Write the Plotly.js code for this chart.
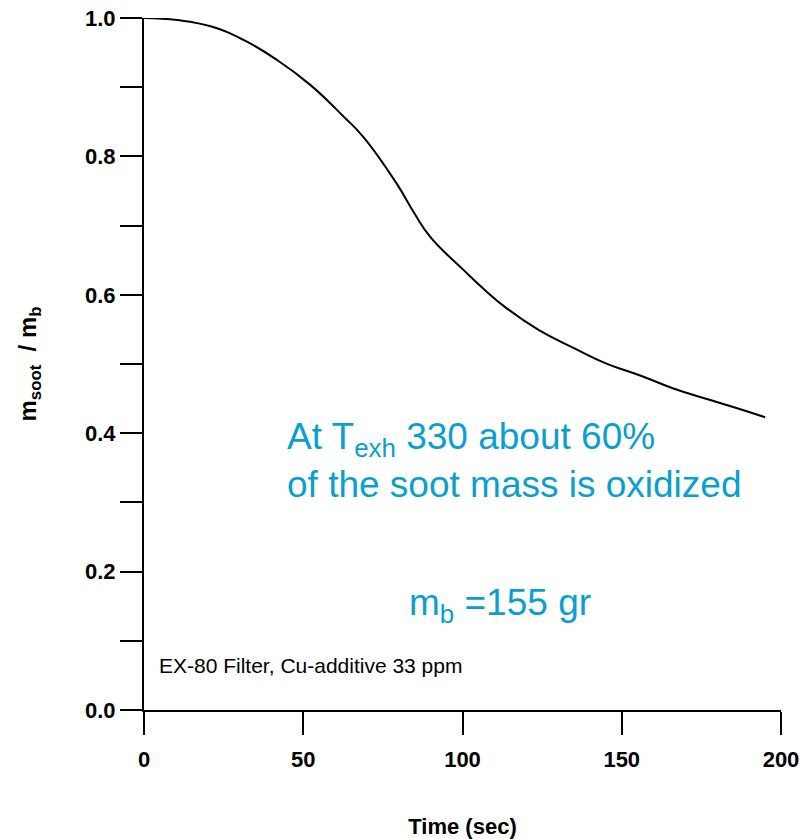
<!DOCTYPE html>
<html>
<head>
<meta charset="utf-8">
<script src="https://cdn.plot.ly/plotly-3.0.1.min.js"></script>
<style>html,body{margin:0;padding:0;background:#fff;}#chart{width:809px;height:839px;}</style>
</head>
<body>
<div id="chart"></div>
<script>
// Data
const timeSec = [0, 10.5, 20.9, 31.4, 41.9, 52.3, 62.8, 68.9, 79.3, 84.6, 89.8, 100.3, 106.5, 114, 124, 135, 145, 156, 166, 177, 187, 195];
const sootRatio = [1.0, 0.997, 0.988, 0.968, 0.939, 0.903, 0.857, 0.828, 0.761, 0.720, 0.684, 0.636, 0.609, 0.580, 0.549, 0.523, 0.501, 0.483, 0.465, 0.449, 0.435, 0.423];
const xTickVals = [0, 50, 100, 150, 200];
const xTickText = ["0", "50", "100", "150", "200"];
const yTickVals = [0, 0.2, 0.4, 0.6, 0.8, 1.0];
const yTickText = ["0.0", "0.2", "0.4", "0.6", "0.8", "1.0"];

const blue = "#0a9fd2";
const FF = "Liberation Sans, Arial, sans-serif";
const tickFont = {family: FF, size: 22, color: "#000", weight: "bold"};

const trace = {
  x: timeSec, y: sootRatio, type: "scatter", mode: "lines",
  line: {color: "#000", width: 2, shape: "spline", smoothing: 1.3},
  hoverinfo: "skip"
};

const layout = {
  width: 809, height: 839,
  margin: {l: 144, r: 28, t: 18, b: 129},
  paper_bgcolor: "#fff", plot_bgcolor: "#fff",
  showlegend: false,
  xaxis: {
    range: [0, 200], tickvals: xTickVals, ticktext: xTickText,
    showline: true, linecolor: "#000", linewidth: 2,
    ticks: "outside", ticklen: 23, tickwidth: 2, tickcolor: "#000",
    showgrid: false, zeroline: false, tickfont: tickFont, ticklabelstandoff: 6,
    title: {text: "<b>Time (sec)</b>", font: {family: FF, size: 22, color: "#000"}, standoff: 48}
  },
  yaxis: {
    range: [0, 1.0], tickvals: yTickVals, ticktext: yTickText,
    showline: true, linecolor: "#000", linewidth: 2,
    ticks: "outside", ticklen: 22, tickwidth: 2, tickcolor: "#000",
    minor: {dtick: 0.1, ticks: "outside", ticklen: 22, tickwidth: 2, tickcolor: "#000", showgrid: false},
    showgrid: false, zeroline: false, tickfont: tickFont,
    title: {text: "<b>m<sub>soot</sub>  / m<sub>b</sub></b>", font: {family: FF, size: 24, color: "#000"}, standoff: 42}
  },
  annotations: [
    {x: 44.3, y: 0.361, xref: "x", yref: "y", xanchor: "left", yanchor: "middle", align: "left", showarrow: false,
     text: "At T<sub>exh</sub> 330 about 60%<br>of the soot mass is oxidized",
     font: {family: FF, size: 37, color: blue}},
    {x: 111.8, y: 0.152, xref: "x", yref: "y", xanchor: "center", yanchor: "middle", showarrow: false,
     text: "m<sub>b</sub> =155 gr",
     font: {family: FF, size: 37, color: blue}},
    {x: 4.1, y: 0.065, xref: "x", yref: "y", xanchor: "left", yanchor: "middle", showarrow: false,
     text: "EX-80 Filter, Cu-additive 33 ppm",
     font: {family: FF, size: 21, color: "#000"}}
  ]
};

Plotly.newPlot("chart", [trace], layout, {displayModeBar: false, staticPlot: true});
</script>
</body>
</html>
